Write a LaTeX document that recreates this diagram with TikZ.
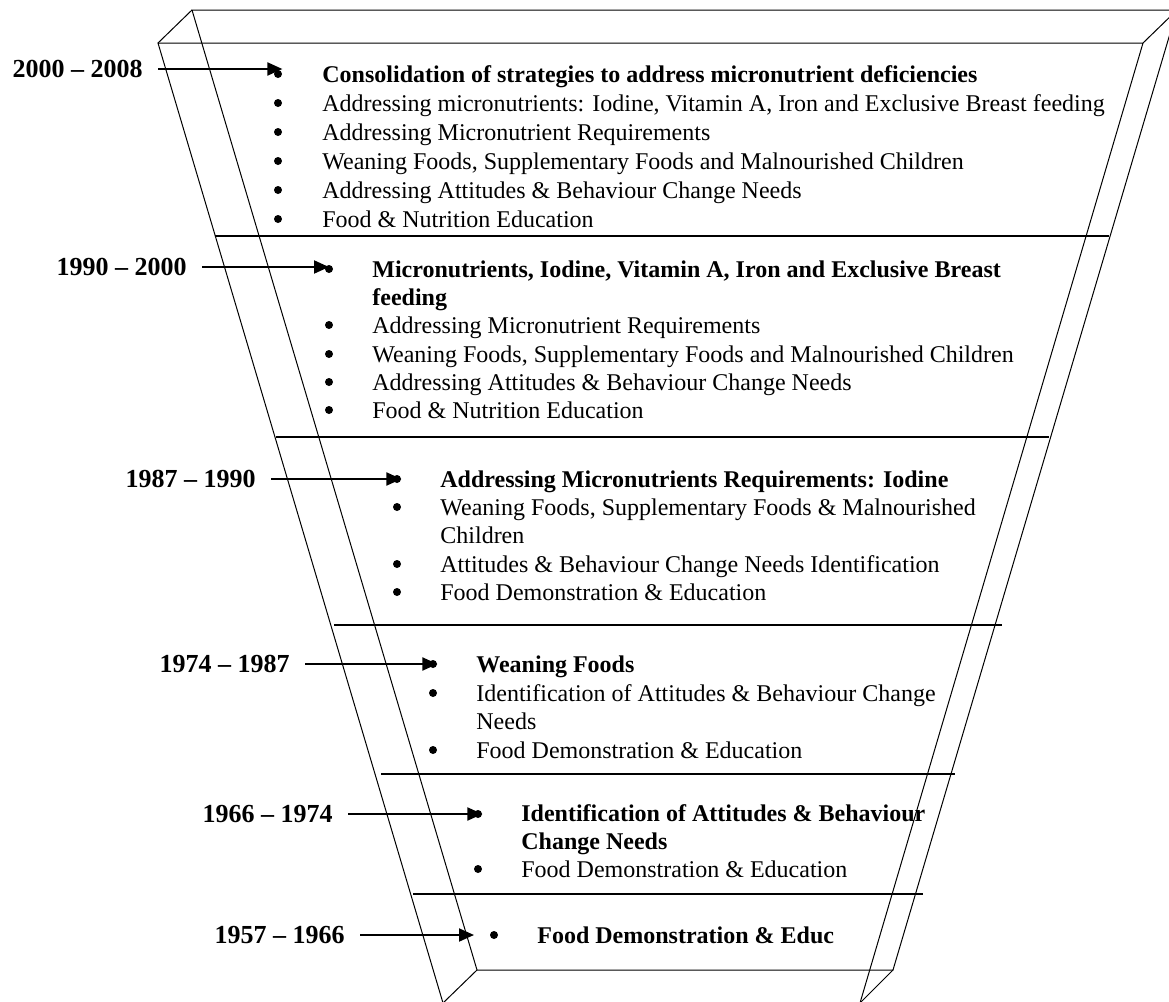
\documentclass[tikz,border=0pt]{standalone}
\usepackage{fontspec}
\setmainfont{Liberation Serif}
\usetikzlibrary{positioning}
\usetikzlibrary{arrows.meta}
\tikzstyle{yr}=[font=\fontsize{13}{15}\selectfont\bfseries,anchor=east,inner sep=0pt]
\tikzstyle{dot}=[circle,fill=black,inner sep=0pt,minimum size=4pt]
\tikzstyle{txt}=[font=\fontsize{12}{14}\selectfont,anchor=base west,inner sep=0pt]
\tikzstyle{hd}=[txt,font=\fontsize{12}{14}\selectfont\bfseries]
\tikzstyle{frame}=[line width=0.5pt]
\tikzstyle{divider}=[line width=0.9pt]
\tikzstyle{yrarrow}=[line width=1pt,shorten <=7.5pt,-{Triangle[length=7.5pt,width=6.5pt]}]

\begin{document}
\begin{tikzpicture}[x=0.5pt,y=-0.5pt]
\useasboundingbox (0,0) rectangle (1169,1002);

% funnel outline
\begin{scope}
\clip (0,0) rectangle (1169,1002);
\coordinate (f1) at (158,43);
\coordinate (f2) at (1143,43);
\coordinate (f3) at (860,1003);
\coordinate (f4) at (443,1003);
\coordinate (k1) at (192,10);
\coordinate (k2) at (1177,10);
\coordinate (k3) at (893,970);
\coordinate (k4) at (477,970);
\draw[frame] (f1) -- (f2) -- (f3) -- (f4) -- cycle;
\draw[frame] (k1) -- (k2) -- (k3) -- (k4) -- cycle;
\draw[frame] (f1) -- (k1) (f2) -- (k2) (f3) -- (k3) (f4) -- (k4);
\end{scope}

% dividers
\draw[divider] (215,236) -- (1109,236);
\draw[divider] (276,437) -- (1049,437);
\draw[divider] (334,625) -- (1002,625);
\draw[divider] (381,774) -- (955,774);
\draw[divider] (413,894) -- (923,894);

% 2000 - 2008
\node[yr] (y1) at (143,69) {2000 -- 2008};
\node[dot] (d11) at (278,74) {};
\node[dot] (d12) at (278,103) {};
\node[dot] (d13) at (278,132) {};
\node[dot] (d14) at (278,161) {};
\node[dot] (d15) at (278,190) {};
\node[dot] (d16) at (278,219) {};
\node[hd] (t11) at (322,82) {Consolidation of strategies to address micronutrient deficiencies};
\node[txt] (t12) at (322,111) {Addressing micronutrients: Iodine, Vitamin A, Iron and Exclusive Breast feeding};
\node[txt] (t13) at (322,140) {Addressing Micronutrient Requirements};
\node[txt] (t14) at (322,169) {Weaning Foods, Supplementary Foods and Malnourished Children};
\node[txt] (t15) at (322,198) {Addressing Attitudes \& Behaviour Change Needs};
\node[txt] (t16) at (322,227) {Food \& Nutrition Education};
\draw[yrarrow] (y1.east) -- (y1.east -| d11.east);

% 1990 - 2000
\node[yr] (y2) at (187,267) {1990 -- 2000};
\node[dot] (d21) at (329,269) {};
\node[dot] (d22) at (329,325) {};
\node[dot] (d23) at (329,354) {};
\node[dot] (d24) at (329,382) {};
\node[dot] (d25) at (329,410) {};
\node[hd] (t21) at (372,277) {Micronutrients, Iodine, Vitamin A, Iron and Exclusive Breast};
\node[hd] (t21b) at (372,305) {feeding};
\node[txt] (t22) at (372,333) {Addressing Micronutrient Requirements};
\node[txt] (t23) at (372,362) {Weaning Foods, Supplementary Foods and Malnourished Children};
\node[txt] (t24) at (372,390) {Addressing Attitudes \& Behaviour Change Needs};
\node[txt] (t25) at (372,418) {Food \& Nutrition Education};
\draw[yrarrow] (y2.east) -- (y2.east -| d21.center);

% 1987 - 1990
\node[yr] (y3) at (256,479) {1987 -- 1990};
\node[dot] (d31) at (397,479) {};
\node[dot] (d32) at (397,507) {};
\node[dot] (d33) at (397,564) {};
\node[dot] (d34) at (397,592) {};
\node[hd] (t31) at (440,487) {Addressing Micronutrients Requirements: Iodine};
\node[txt] (t32) at (440,515) {Weaning Foods, Supplementary Foods \& Malnourished};
\node[txt] (t32b) at (440,543) {Children};
\node[txt] (t33) at (440,572) {Attitudes \& Behaviour Change Needs Identification};
\node[txt] (t34) at (440,600) {Food Demonstration \& Education};
\draw[yrarrow] (y3.east) -- (y3.east -| d31.east);

% 1974 - 1987
\node[yr] (y4) at (290,664) {1974 -- 1987};
\node[dot] (d41) at (433,664) {};
\node[dot] (d42) at (433,693) {};
\node[dot] (d43) at (433,750) {};
\node[hd] (t41) at (476,672) {Weaning Foods};
\node[txt] (t42) at (476,701) {Identification of Attitudes \& Behaviour Change};
\node[txt] (t42b) at (476,729) {Needs};
\node[txt] (t43) at (476,758) {Food Demonstration \& Education};
\draw[yrarrow] (y4.east) -- (y4.east -| d41.east);

% 1966 - 1974
\node[yr] (y5) at (333,814) {1966 -- 1974};
\node[dot] (d51) at (478,814) {};
\node[dot] (d52) at (478,869) {};
\node[hd] (t51) at (521,821) {Identification of Attitudes \& Behaviour};
\node[hd] (t51b) at (521,849) {Change Needs};
\node[txt] (t52) at (521,877) {Food Demonstration \& Education};
\draw[yrarrow] (y5.east) -- (y5.east -| d51.east);

% 1957 - 1966
\node[yr] (y6) at (345,935) {1957 -- 1966};
\node[dot] (d61) at (494,935) {};
\node[hd] (t61) at (537,943) {Food Demonstration \& Educ};
\draw[yrarrow,shorten >=10pt] (y6.east) -- (y6.east -| d61.center);

\end{tikzpicture}
\end{document}
